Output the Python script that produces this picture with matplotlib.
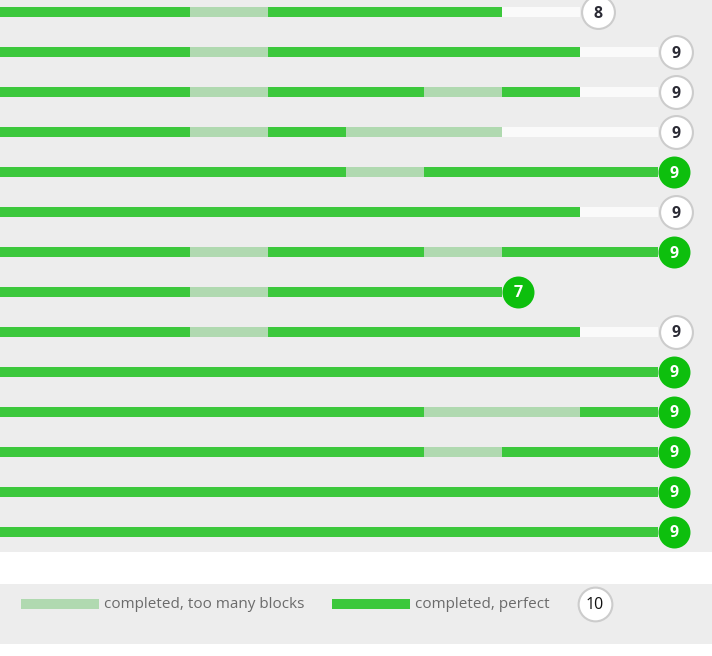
import matplotlib
matplotlib.use('Agg')
import matplotlib.pyplot as plt

# one string per row, one char per level:
# G = completed perfect, L = completed with too many blocks, x = not completed
rows = [
    "GGGLGGGx",
    "GGGLGGGGx",
    "GGGLGGLGx",
    "GGGLGLLxx",
    "GGGGGLGGG",
    "GGGGGGGGx",
    "GGGLGGLGG",
    "GGGLGGG",
    "GGGLGGGGx",
    "GGGGGGGGG",
    "GGGGGGLLG",
    "GGGGGGLGG",
    "GGGGGGGGG",
    "GGGGGGGGG",
]
legend_labels = ["completed, too many blocks", "completed, perfect"]
legend_total = 10

GREEN = '#3cc83c'
LIGHT = '#b0d9b0'
TRACK = '#fafafa'
BG = '#ededed'
CIRCLE_GREEN = '#0dbf0d'
colors = {'G': GREEN, 'L': LIGHT, 'x': TRACK}

plt.rcParams['font.family'] = ['Open Sans', 'DejaVu Sans']

fig = plt.figure(figsize=(7.12, 6.56), dpi=100)
ax = fig.add_axes([0, 0, 1, 1])
ax.set_xlim(44 / 78, 756 / 78)
ax.set_ylim(644 / 40, -12 / 40)
ax.axis('off')
fig.patch.set_facecolor('white')

# panels
ax.axhspan(-12 / 40, 13.5, color=BG, lw=0, zorder=0)
ax.axhspan(14.3, 15.79, color=BG, lw=0, zorder=0)

bh = 0.25
dy = 5.5 / 40   # half a digit height, so the number sits in the middle
for i, r in enumerate(rows):
    n = len(r)
    # split into runs of the same status
    start = 0
    for k in range(1, n + 1):
        if k == n or r[k] != r[start]:
            ax.barh(i, k - start, left=start, height=bh, color=colors[r[start]],
                    lw=0, zorder=2)
            start = k
    done = 'x' not in r
    if done:
        ax.scatter(n + 16 / 78, i, s=530, color=CIRCLE_GREEN, lw=0, zorder=4)
        ax.text(n + 16 / 78, i + dy, str(n), color='white', fontsize=11.5,
                fontweight='bold', ha='center', va='baseline', zorder=5)
    else:
        ax.scatter(n + 17.5 / 78, i, s=560, color='white', edgecolors='#cccccc',
                   lw=1.5, zorder=4)
        ax.text(n + 17.5 / 78, i + dy, str(n), color='#2b2b35', fontsize=11.5,
                fontweight='bold', ha='center', va='baseline', zorder=5)

# legend
ly = 14.8
ax.barh(ly, 1, left=65 / 78, height=bh, color=LIGHT, lw=0, zorder=2)
ax.text(148 / 78, ly + 4.5 / 40, legend_labels[0], color='#6b6b6b', fontsize=11,
        ha='left', va='baseline', zorder=3)
ax.barh(ly, 1, left=376 / 78, height=bh, color=GREEN, lw=0, zorder=2)
ax.text(459 / 78, ly + 4.5 / 40, legend_labels[1], color='#6b6b6b', fontsize=11,
        ha='left', va='baseline', zorder=3)
ax.scatter(639 / 78, ly, s=590, color='white', edgecolors='#cccccc', lw=1.5, zorder=4)
ax.text(639 / 78, ly + dy, str(legend_total), color='#111111', fontsize=11.5,
        ha='center', va='baseline', zorder=5)

fig.savefig('out.png', dpi=100)
